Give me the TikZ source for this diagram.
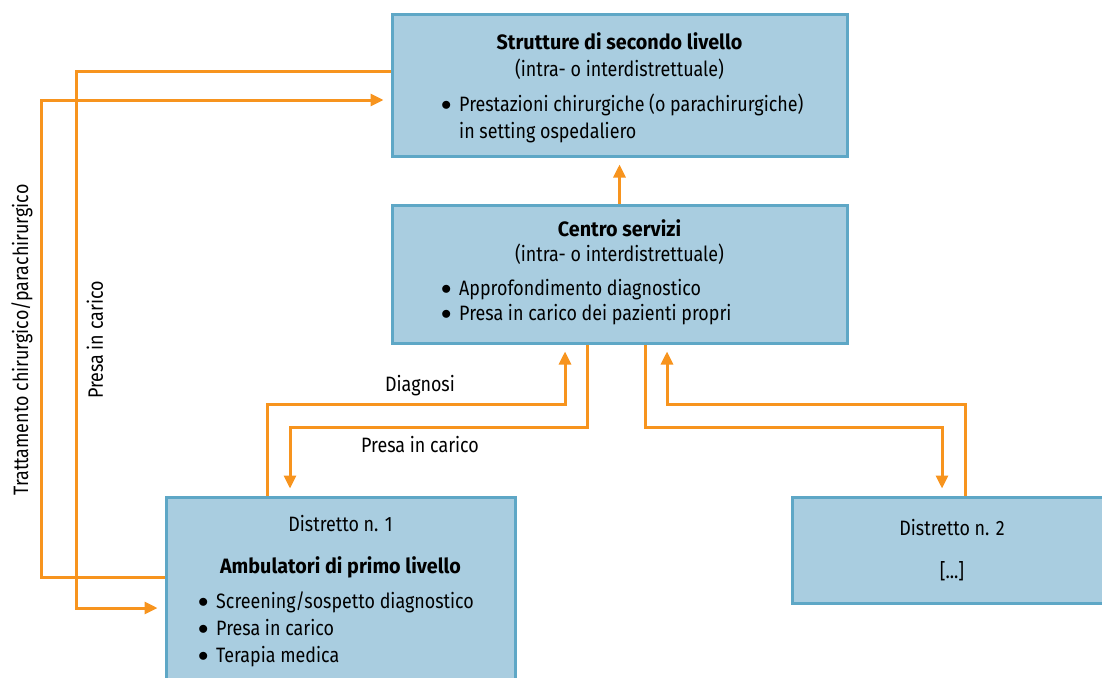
\documentclass[tikz,border=0pt]{standalone}
\usepackage{fontspec}
\setmainfont[FakeStretch=0.86, BoldFeatures={FakeStretch=0.95}]{Fira Sans}
\usepackage{xcolor}
\usetikzlibrary{arrows.meta, positioning, calc}
\definecolor{boxfill}{HTML}{A9CDE0}
\definecolor{boxline}{HTML}{5EA7C6}
\definecolor{flowcol}{HTML}{F7941E}
\newcommand{\blt}{\makebox[18pt][l]{\raisebox{1pt}{$\bullet$}}}
\begin{document}
\begin{tikzpicture}[
    x=1pt, y=-1pt,
    every node/.style={font=\fontsize{20.8}{25}\selectfont},
    area/.style={rectangle, draw=boxline, fill=boxfill, line width=3pt, inner sep=0pt},
    txt/.style={anchor=base, inner sep=0pt},
    item/.style={anchor=base west, inner sep=0pt},
    flow/.style={draw=flowcol, line width=3pt},
    arrow/.style={flow, -{Triangle[length=13pt, width=12pt]}, shorten >=7pt}
  ]
    \clip (0,0) rectangle (1102,677);

    \node[area, minimum width=455pt, minimum height=141pt] (top) at (619.5,85.5) {};
    \node[area, minimum width=455pt, minimum height=138pt] (mid) at (619.5,274) {};
    \node[area, minimum width=349pt, minimum height=193pt] (d1) at (340.5,593.5) {};
    \node[area, minimum width=320pt, minimum height=106pt] (d2) at (952,550) {};

    \node[txt] (topT) at (619.5,49) {\bfseries Strutture di secondo livello};
    \node[txt] (topS) at (619.5,76) {(intra- o interdistrettuale)};
    \node[item] (topB) at (441,111) {\blt Prestazioni chirurgiche (o parachirurgiche)};
    \node[item] (topC) at (459,138) {in setting ospedaliero};

    \node[txt] (midT) at (619.5,236) {\bfseries Centro servizi};
    \node[txt] (midS) at (619.5,261) {(intra- o interdistrettuale)};
    \node[item] (midA) at (441,295) {\blt Approfondimento diagnostico};
    \node[item] (midB) at (441,320) {\blt Presa in carico dei pazienti propri};

    \node[txt] (d1T) at (340.5,531) {Distretto n. 1};
    \node[txt] (d1S) at (340.5,573) {\bfseries Ambulatori di primo livello};
    \node[item] (d1A) at (198,608) {\blt Screening/sospetto diagnostico};
    \node[item] (d1B) at (198,635) {\blt Presa in carico};
    \node[item] (d1C) at (198,662) {\blt Terapia medica};

    \node[txt] (d2T) at (952,535) {Distretto n. 2};
    \node[txt] (d2S) at (952,578) {[...]};

    \draw[arrow] (mid.north) -- (top.south);
    \draw[arrow] ([yshift=14.5pt]top.west) -| (76,608) -- (d1.west |- 0,608);
    \draw[arrow] (d1.west |- 0,577) -| (41,100) -- ([yshift=-14.5pt]top.west);
    \draw[arrow] (d1.north -| 267,0) |- (565,404) -- (565,404 |- mid.south);
    \draw[arrow] (mid.south -| 587,0) -- (587,427) -| (d1.north -| 290,0);
    \draw[arrow] (mid.south -| 645,0) -- (645,427) -| (d2.north -| 942,0);
    \draw[arrow] (d2.north -| 965,0) -- (965,404) -| (mid.south -| 667,0);

    \node (lblDiag) at (420,386) {Diagnosi};
    \node (lblPresa) at (420,445) {Presa in carico};
    \node[rotate=90] (lblPresaL) at (95,340) {Presa in carico};
    \node[rotate=90] (lblTratt) at (22,340) {Trattamento chirurgico/parachirurgico};
  \end{tikzpicture}
\end{document}
